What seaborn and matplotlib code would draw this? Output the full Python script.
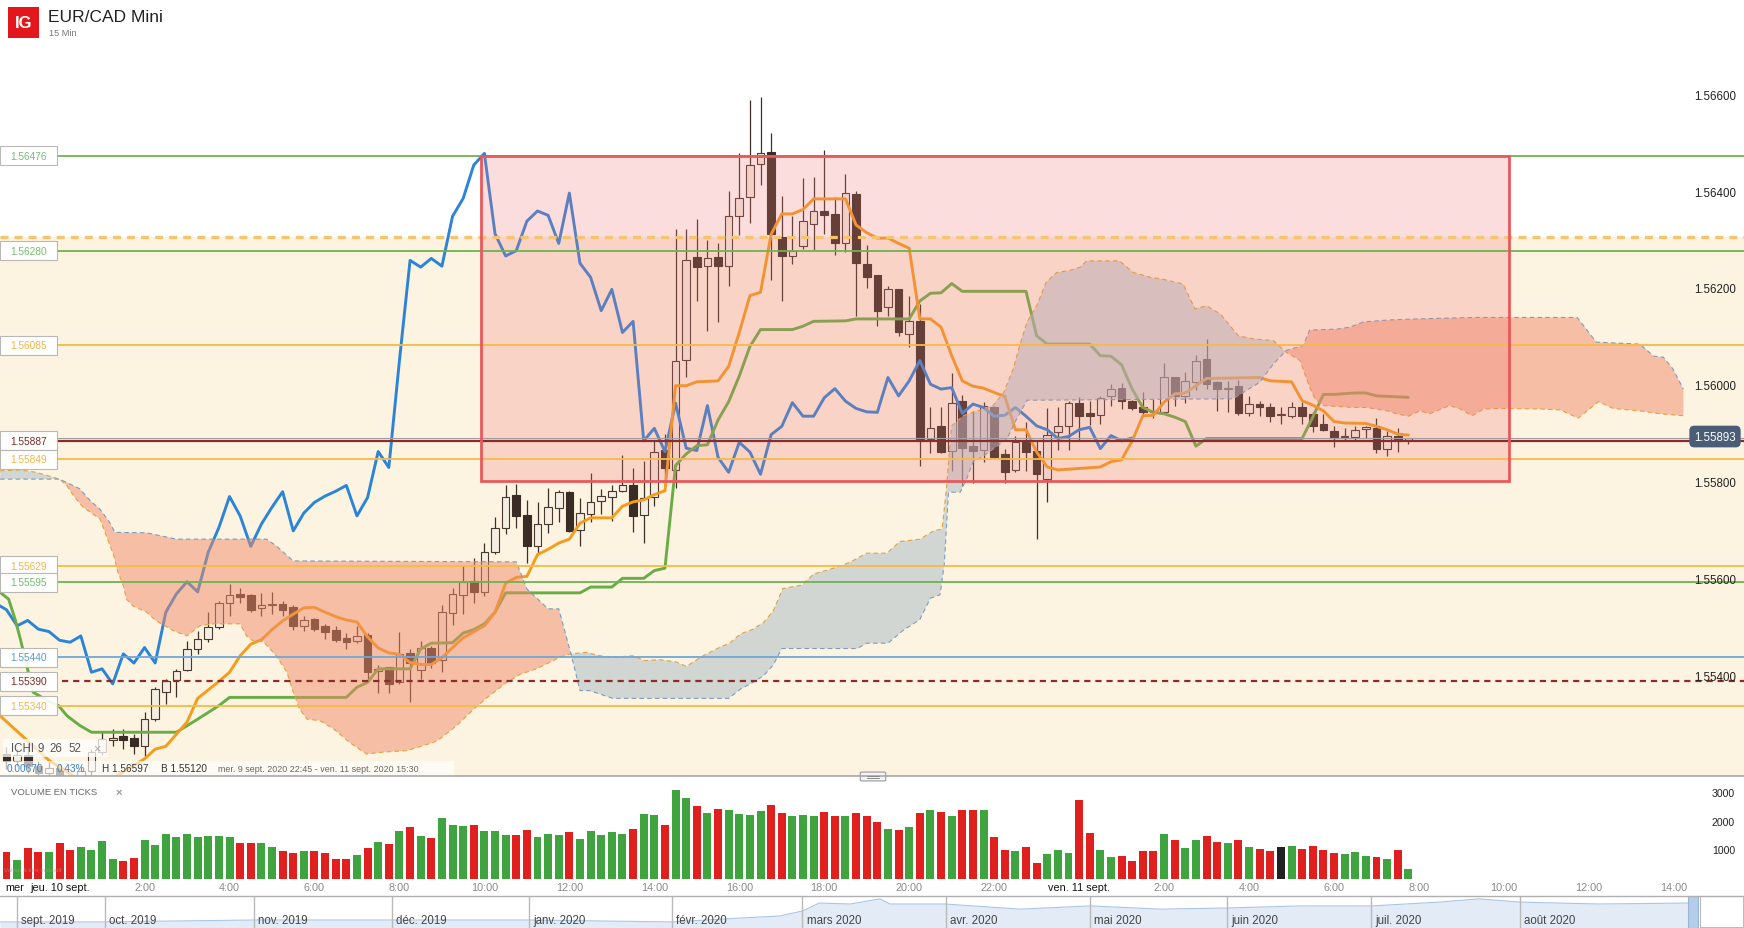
import numpy as np
import pandas as pd
import matplotlib
matplotlib.use("Agg")
import matplotlib.pyplot as plt
import matplotlib.patches as mpatches
import matplotlib.transforms as mtrans
import seaborn as sns

sns.set_style("white")
plt.rcParams["font.family"] = ["Liberation Sans", "DejaVu Sans"]

# ---- data: 15 min bars, index 0 = jeu. 10 sept. 00:00 ----
bar_idx = list(range(-5, 128))

opens = [1.55240, 1.55225, 1.55238, 1.55215, 1.55200, 1.55212, 1.55190, 1.55180, 1.55205, 1.55245,
         1.55268, 1.55278, 1.55273, 1.55257, 1.55312, 1.55369, 1.55392, 1.55414, 1.55458, 1.55478,
         1.55502, 1.55552, 1.55570, 1.55569, 1.55542, 1.55547, 1.55551, 1.55543, 1.55504, 1.55519,
         1.55504, 1.55496, 1.55480, 1.55474, 1.55486, 1.55411, 1.55419, 1.55388, 1.55449, 1.55413,
         1.55460, 1.55435, 1.55531, 1.55569, 1.55598, 1.55575, 1.55658, 1.55708, 1.55775, 1.55734,
         1.55669, 1.55715, 1.55748, 1.55782, 1.55703, 1.55736, 1.55762, 1.55772, 1.55784, 1.55796,
         1.55734, 1.55772, 1.55869, 1.55827, 1.56055, 1.56266, 1.56248, 1.56266, 1.56248, 1.56351,
         1.56390, 1.56459, 1.56483, 1.56308, 1.56269, 1.56289, 1.56335, 1.56362, 1.56356, 1.56295,
         1.56397, 1.56253, 1.56230, 1.56163, 1.56201, 1.56108, 1.56134, 1.55891, 1.55917, 1.55867,
         1.55969, 1.55876, 1.55869, 1.55958, 1.55860, 1.55827, 1.55887, 1.55866, 1.55809, 1.55906,
         1.55917, 1.55966, 1.55944, 1.55940, 1.55979, 1.55997, 1.55969, 1.55958, 1.55948, 1.55947,
         1.56018, 1.55980, 1.56009, 1.56056, 1.56008, 1.55995, 1.56001, 1.55944, 1.55963, 1.55956,
         1.55940, 1.55938, 1.55956, 1.55942, 1.55922, 1.55908, 1.55895, 1.55896, 1.55911, 1.55913,
         1.55871, 1.55898, 1.55889]
highs = [1.55255, 1.55250, 1.55262, 1.55225, 1.55230, 1.55220, 1.55200, 1.55215, 1.55250, 1.55285,
         1.55292, 1.55292, 1.55281, 1.55326, 1.55378, 1.55395, 1.55416, 1.55474, 1.55495, 1.55533,
         1.55557, 1.55591, 1.55584, 1.55571, 1.55573, 1.55574, 1.55557, 1.55548, 1.55526, 1.55522,
         1.55509, 1.55504, 1.55491, 1.55504, 1.55491, 1.55423, 1.55419, 1.55493, 1.55456, 1.55474,
         1.55464, 1.55547, 1.55584, 1.55629, 1.55646, 1.55677, 1.55729, 1.55796, 1.55798, 1.55765,
         1.55760, 1.55789, 1.55786, 1.55784, 1.55770, 1.55821, 1.55788, 1.55796, 1.55858, 1.55830,
         1.55846, 1.55888, 1.55901, 1.56325, 1.56324, 1.56346, 1.56303, 1.56296, 1.56404, 1.56482,
         1.56592, 1.56597, 1.56523, 1.56393, 1.56351, 1.56430, 1.56432, 1.56488, 1.56390, 1.56439,
         1.56403, 1.56292, 1.56230, 1.56206, 1.56201, 1.56186, 1.56169, 1.55958, 1.55958, 1.56027,
         1.55982, 1.55949, 1.55968, 1.55960, 1.55871, 1.55898, 1.55925, 1.55889, 1.55954, 1.55956,
         1.55970, 1.55977, 1.55970, 1.55980, 1.56004, 1.56006, 1.55972, 1.55987, 1.55973, 1.56048,
         1.56018, 1.56030, 1.56064, 1.56097, 1.56011, 1.56011, 1.56013, 1.55979, 1.55970, 1.55965,
         1.55958, 1.55968, 1.55968, 1.55946, 1.55942, 1.55918, 1.55913, 1.55918, 1.55918, 1.55935,
         1.55908, 1.55913, 1.55893]
lows = [1.55210, 1.55215, 1.55200, 1.55180, 1.55185, 1.55170, 1.55160, 1.55170, 1.55190, 1.55238,
        1.55257, 1.55250, 1.55240, 1.55236, 1.55309, 1.55343, 1.55357, 1.55412, 1.55447, 1.55472,
        1.55498, 1.55526, 1.55553, 1.55533, 1.55526, 1.55529, 1.55526, 1.55497, 1.55495, 1.55495,
        1.55478, 1.55472, 1.55456, 1.55469, 1.55395, 1.55367, 1.55367, 1.55385, 1.55348, 1.55395,
        1.55417, 1.55410, 1.55507, 1.55529, 1.55553, 1.55567, 1.55653, 1.55695, 1.55706, 1.55635,
        1.55653, 1.55697, 1.55719, 1.55699, 1.55669, 1.55720, 1.55736, 1.55722, 1.55781, 1.55698,
        1.55677, 1.55753, 1.55801, 1.55789, 1.56020, 1.56177, 1.56115, 1.56132, 1.56208, 1.56313,
        1.56337, 1.56415, 1.56220, 1.56175, 1.56253, 1.56284, 1.56282, 1.56315, 1.56272, 1.56277,
        1.56144, 1.56202, 1.56125, 1.56146, 1.56103, 1.56080, 1.55836, 1.55863, 1.55862, 1.55825,
        1.55793, 1.55801, 1.55844, 1.55850, 1.55801, 1.55823, 1.55825, 1.55685, 1.55760, 1.55869,
        1.55869, 1.55887, 1.55920, 1.55922, 1.55960, 1.55953, 1.55951, 1.55942, 1.55935, 1.55946,
        1.55960, 1.55966, 1.55993, 1.55994, 1.55949, 1.55946, 1.55941, 1.55939, 1.55939, 1.55925,
        1.55922, 1.55935, 1.55922, 1.55906, 1.55908, 1.55875, 1.55887, 1.55889, 1.55892, 1.55863,
        1.55856, 1.55864, 1.55880]
closes = [1.55225, 1.55238, 1.55215, 1.55200, 1.55212, 1.55190, 1.55180, 1.55205, 1.55245, 1.55271,
          1.55274, 1.55268, 1.55256, 1.55312, 1.55374, 1.55390, 1.55412, 1.55458, 1.55478, 1.55502,
          1.55552, 1.55569, 1.55564, 1.55538, 1.55548, 1.55551, 1.55538, 1.55505, 1.55516, 1.55498,
          1.55493, 1.55475, 1.55471, 1.55484, 1.55409, 1.55416, 1.55385, 1.55447, 1.55428, 1.55460,
          1.55428, 1.55533, 1.55571, 1.55596, 1.55575, 1.55657, 1.55708, 1.55772, 1.55732, 1.55669,
          1.55715, 1.55750, 1.55782, 1.55701, 1.55738, 1.55760, 1.55773, 1.55783, 1.55795, 1.55732,
          1.55770, 1.55865, 1.55832, 1.56053, 1.56260, 1.56246, 1.56264, 1.56248, 1.56351, 1.56388,
          1.56457, 1.56481, 1.56315, 1.56269, 1.56280, 1.56341, 1.56362, 1.56353, 1.56295, 1.56399,
          1.56254, 1.56225, 1.56156, 1.56200, 1.56111, 1.56134, 1.55887, 1.55913, 1.55865, 1.55965,
          1.55872, 1.55867, 1.55960, 1.55853, 1.55822, 1.55884, 1.55864, 1.55818, 1.55900, 1.55917,
          1.55966, 1.55938, 1.55938, 1.55976, 1.55995, 1.55969, 1.55954, 1.55947, 1.55946, 1.56018,
          1.55980, 1.56011, 1.56053, 1.56004, 1.55994, 1.55997, 1.55944, 1.55963, 1.55956, 1.55938,
          1.55940, 1.55956, 1.55938, 1.55918, 1.55910, 1.55892, 1.55896, 1.55910, 1.55915, 1.55871,
          1.55898, 1.55887, 1.55893]
volumes = [930, 674, 1093, 953, 930, 1267, 1023, 1128, 1000, 1326,
           686, 616, 744, 1372, 1174, 1581, 1453, 1558, 1477, 1500,
           1488, 1477, 1267, 1267, 1267, 1128, 988, 895, 965, 977,
           919, 709, 709, 837, 1093, 1302, 1209, 1686, 1802, 1500,
           1442, 2128, 1884, 1837, 1884, 1674, 1663, 1523, 1523, 1709,
           1477, 1558, 1523, 1628, 1407, 1663, 1547, 1651, 1558, 1756,
           2267, 2244, 1884, 3116, 2814, 2547, 2314, 2442, 2395, 2279,
           2221, 2360, 2593, 2314, 2186, 2244, 2209, 2337, 2209, 2209,
           2302, 2215, 1977, 1750, 1710, 1826, 2302, 2395, 2326, 2209,
           2419, 2395, 2407, 1465, 1023, 965, 1116, 558, 872, 1023,
           895, 2767, 1616, 1000, 779, 814, 640, 988, 977, 1581,
           1372, 1093, 1372, 1500, 1291, 1256, 1360, 1128, 1047, 977,
           1128, 1163, 1058, 1140, 1023, 919, 860, 953, 802, 779,
           698, 1000, 337]

# Ichimoku lines (bar index, price)
tenkan = [(-6, 1.55327), (-3, 1.55267), (-1, 1.55227), (2, 1.55185), (5, 1.55190),
          (8, 1.55230), (9, 1.55250), (10, 1.55256), (12, 1.55306), (13, 1.55355),
          (15, 1.55390), (16, 1.55409), (17, 1.55443), (18, 1.55467), (19, 1.55476),
          (20, 1.55497), (21, 1.55515), (22, 1.55529), (23, 1.55542), (24, 1.55543),
          (25, 1.55533), (26, 1.55524), (27, 1.55517), (28, 1.55513), (29, 1.55482),
          (30, 1.55459), (31, 1.55449), (32, 1.55446), (33, 1.55429), (34, 1.55425),
          (35, 1.55425), (36, 1.55439), (37, 1.55460), (38, 1.55480), (40, 1.55505),
          (41, 1.55533), (42, 1.55593), (43, 1.55605), (44, 1.55607), (45, 1.55652),
          (46, 1.55663), (47, 1.55676), (48, 1.55684), (49, 1.55717), (50, 1.55728),
          (52, 1.55728), (53, 1.55752), (54, 1.55761), (55, 1.55765), (56, 1.55776),
          (57, 1.55784), (58, 1.56001), (59, 1.56001), (60, 1.56009), (62, 1.56011),
          (63, 1.56041), (64, 1.56111), (65, 1.56187), (66, 1.56194), (67, 1.56314),
          (68, 1.56356), (69, 1.56356), (70, 1.56365), (71, 1.56387), (74, 1.56387),
          (75, 1.56333), (76, 1.56317), (77, 1.56306), (78, 1.56306), (79, 1.56295),
          (80, 1.56285), (81, 1.56139), (82, 1.56139), (83, 1.56122), (84, 1.56063),
          (85, 1.56011), (86, 1.56000), (87, 1.55996), (88, 1.55987), (89, 1.55979),
          (90, 1.55910), (91, 1.55910), (92, 1.55864), (93, 1.55833), (94, 1.55827),
          (96, 1.55830), (98, 1.55833), (99, 1.55844), (100, 1.55848), (101, 1.55887),
          (102, 1.55939), (103, 1.55940), (104, 1.55967), (105, 1.55984), (106, 1.55986),
          (107, 1.56001), (108, 1.56016), (113, 1.56018), (114, 1.56011), (116, 1.56009),
          (117, 1.55970), (118, 1.55961), (119, 1.55949), (120, 1.55927), (121, 1.55924),
          (123, 1.55923), (124, 1.55917), (125, 1.55910), (126, 1.55901), (127, 1.55899)]

kijun = [(-5.6, 1.55574), (-4.8, 1.55560), (-4.2, 1.55519), (-3.7, 1.55478), (-2.5, 1.55368),
         (-0.9, 1.55347), (-0.1, 1.55340), (0.7, 1.55319), (1.9, 1.55299), (3, 1.55285),
         (11, 1.55285), (13, 1.55312), (15, 1.55340), (16, 1.55357), (27, 1.55357),
         (28, 1.55378), (29, 1.55388), (30, 1.55416), (33, 1.55416), (34, 1.55457),
         (35, 1.55469), (37, 1.55470), (38, 1.55490), (39, 1.55497), (40, 1.55509),
         (41, 1.55533), (42, 1.55573), (49, 1.55573), (50, 1.55585), (52, 1.55585),
         (53, 1.55603), (55, 1.55603), (56, 1.55619), (57, 1.55624), (58, 1.55836),
         (59, 1.55860), (60, 1.55877), (61, 1.55879), (62, 1.55930), (63, 1.55968),
         (64, 1.56021), (65, 1.56082), (66, 1.56117), (69, 1.56117), (70, 1.56124),
         (71, 1.56134), (74, 1.56135), (75, 1.56139), (80, 1.56139), (81, 1.56176),
         (82, 1.56192), (83, 1.56193), (84, 1.56212), (85, 1.56196), (91, 1.56196),
         (92, 1.56104), (93, 1.56087), (97, 1.56087), (98, 1.56063), (99, 1.56062),
         (100, 1.56044), (101, 1.55994), (102, 1.55956), (103, 1.55946), (104, 1.55943),
         (105, 1.55936), (106, 1.55927), (107, 1.55876), (108, 1.55892), (117, 1.55892),
         (118, 1.55936), (119, 1.55983), (120, 1.55983), (122, 1.55986), (123, 1.55986),
         (124, 1.55980), (127, 1.55977)]

span_a = [(-5.6, 1.55825), (-3.7, 1.55827), (-2.2, 1.55822), (0.0, 1.55808), (0.7, 1.55794),
          (1.3, 1.55774), (2.2, 1.55750), (3.8, 1.55726), (4.4, 1.55691), (5.1, 1.55650),
          (5.5, 1.55615), (6.0, 1.55588), (6.3, 1.55560), (6.9, 1.55546), (8.2, 1.55533),
          (9.1, 1.55515), (10.7, 1.55495), (12.0, 1.55484), (13.2, 1.55505), (14.5, 1.55509),
          (17.0, 1.55509), (17.6, 1.55484), (18.2, 1.55474), (19.2, 1.55472), (20.4, 1.55443),
          (21.4, 1.55409), (22.0, 1.55368), (22.6, 1.55333), (23.3, 1.55312), (24.5, 1.55309),
          (25.8, 1.55292), (27.3, 1.55264), (28.9, 1.55240), (30.5, 1.55244), (32.7, 1.55247),
          (35.2, 1.55264), (35.8, 1.55271), (37.4, 1.55299), (39.0, 1.55333), (40.5, 1.55361),
          (42.1, 1.55388), (43.4, 1.55405), (44.9, 1.55416), (46.2, 1.55430), (47.1, 1.55440),
          (48.2, 1.55447), (49.6, 1.55450), (50.9, 1.55443), (52.1, 1.55440), (54.0, 1.55443),
          (55.1, 1.55433), (56.5, 1.55435), (58.1, 1.55430), (59.0, 1.55421), (60.6, 1.55443),
          (62.2, 1.55461), (63.1, 1.55469), (64.1, 1.55488), (65.3, 1.55498), (66.3, 1.55512),
          (67.2, 1.55536), (68.1, 1.55582), (69.9, 1.55589), (71.0, 1.55612), (73.2, 1.55626),
          (74.4, 1.55636), (76.0, 1.55655), (77.9, 1.55655), (79.1, 1.55679), (81.0, 1.55684),
          (82.3, 1.55701), (83.1, 1.55705), (83.5, 1.55788), (84.0, 1.55918), (85.1, 1.55939),
          (86.0, 1.55946), (87.0, 1.55953), (87.9, 1.55960), (88.9, 1.55987), (89.8, 1.56036),
          (90.4, 1.56084), (91.1, 1.56133), (92.0, 1.56166), (92.9, 1.56215), (93.9, 1.56235),
          (95.1, 1.56239), (96.1, 1.56246), (96.7, 1.56259), (99.8, 1.56259), (101.1, 1.56235),
          (102.7, 1.56225), (103.9, 1.56221), (105.8, 1.56211), (106.9, 1.56160), (108.0, 1.56166),
          (109.3, 1.56149), (111.0, 1.56104), (112.4, 1.56098), (114.3, 1.56094), (115.5, 1.56070),
          (116.8, 1.56053), (117.7, 1.55998), (118.2, 1.55974), (119.0, 1.55960), (121.8, 1.55956),
          (123.1, 1.55956), (125.0, 1.55949), (125.9, 1.55943), (127.0, 1.55938), (128.1, 1.55949),
          (129.0, 1.55943), (130.9, 1.55960), (131.9, 1.55953), (133.0, 1.55939), (134.1, 1.55953),
          (135.6, 1.55954), (139.4, 1.55953), (141.3, 1.55951), (143.0, 1.55934), (144.9, 1.55968),
          (146.3, 1.55954), (148.8, 1.55949), (150.7, 1.55943), (152.9, 1.55939)]

span_b = [(-5.6, 1.55808), (0.0, 1.55808), (1.9, 1.55788), (2.9, 1.55763), (3.8, 1.55746),
          (4.7, 1.55719), (5.2, 1.55698), (8.2, 1.55697), (11.0, 1.55684), (19.5, 1.55684),
          (20.4, 1.55670), (22.0, 1.55639), (43.0, 1.55637), (44.0, 1.55581), (46.0, 1.55540),
          (47.0, 1.55540), (48.2, 1.55443), (49.0, 1.55371), (49.9, 1.55371), (52.1, 1.55355),
          (63.0, 1.55355), (64.1, 1.55374), (65.3, 1.55388), (66.3, 1.55402), (67.2, 1.55424),
          (68.0, 1.55458), (75.1, 1.55458), (76.0, 1.55469), (78.0, 1.55469), (79.4, 1.55495),
          (81.0, 1.55518), (82.0, 1.55562), (82.9, 1.55569), (83.3, 1.55631), (83.7, 1.55781),
          (84.8, 1.55781), (85.4, 1.55808), (86.0, 1.55843), (87.0, 1.55856), (87.9, 1.55870),
          (89.2, 1.55891), (90.1, 1.55932), (91.1, 1.55971), (110.5, 1.55974), (113.0, 1.56008),
          (114.3, 1.56046), (115.5, 1.56074), (117.1, 1.56084), (117.7, 1.56116), (120.3, 1.56118),
          (121.5, 1.56122), (122.8, 1.56133), (125.3, 1.56137), (127.8, 1.56139), (133.1, 1.56142),
          (142.9, 1.56142), (143.5, 1.56125), (144.7, 1.56091), (148.8, 1.56087), (150.1, 1.56062),
          (151.0, 1.56060), (151.9, 1.56036), (152.9, 1.55994)]

# horizontal levels drawn by the user
levels = [1.56476, 1.56280, 1.56085, 1.55887, 1.55849, 1.55629, 1.55595, 1.55440, 1.55390, 1.55340]
level_kind = ["green", "green", "orange", "red", "orange", "orange", "green", "blue", "reddash", "orange"]
zone_top = 1.56308          # dashed orange line / top of the cream zone
last_price = 1.55893
rect_bars = (39.7, 136.5)   # drawn rectangle, bar range
rect_prices = (1.55805, 1.56476)

price_ticks = [1.566, 1.564, 1.562, 1.560, 1.558, 1.556, 1.554]
vol_ticks = [1000, 2000, 3000]
hour_ticks = [8, 16, 24, 32, 40, 48, 56, 64, 72, 80, 88, 104, 112, 120, 128, 136, 144, 152]
hour_labels = ["2:00", "4:00", "6:00", "8:00", "10:00", "12:00", "14:00", "16:00", "18:00",
               "20:00", "22:00", "2:00", "4:00", "6:00", "8:00", "10:00", "12:00", "14:00"]
day_ticks = [0, 96]
day_labels = ["jeu. 10 sept.", "ven. 11 sept."]

# navigator (trading months since oct. 2019, relative level)
nav_t = [-0.74, -0.03, 1.06, 2.03, 3.0, 4.02, 4.5, 4.78, 4.94, 5.06, 5.28, 5.49, 5.56,
         5.95, 6.48, 6.98, 7.47, 7.95, 8.46, 8.97, 9.45, 9.73, 10.02, 10.58, 11.21]
nav_v = [0.19, 0.19, 0.25, 0.25, 0.25, 0.19, 0.31, 0.375, 0.53, 0.78, 0.75, 0.91, 0.75,
         0.75, 0.59, 0.69, 0.59, 0.625, 0.69, 0.69, 0.81, 0.91, 0.81, 0.75, 0.78]
nav_months = [-0.62, 0, 1.058, 2.035, 3.004, 4.016, 4.94, 5.954, 6.975, 7.947, 8.968, 10.02]
nav_labels = ["sept. 2019", "oct. 2019", "nov. 2019", "déc. 2019", "janv. 2020", "févr. 2020",
              "mars 2020", "avr. 2020", "mai 2020", "juin 2020", "juil. 2020", "août 2020"]

# ---- layout ----
W, H = 1744, 929
X0, X1 = -5.612, 158.606
P0, P1 = 1.551946, 1.568


def fx(x):
    return x / W


def fy(y):
    return 1 - y / H


fig = plt.figure(figsize=(W / 100, H / 100), dpi=100)
fig.patch.set_facecolor("white")

df = pd.DataFrame({"i": bar_idx, "o": opens, "h": highs, "l": lows, "c": closes, "v": volumes})

# ---- price panel ----
ax = fig.add_axes([0, fy(777), 1, 777 / H])
ax.axhspan(P0, zone_top, color="#fdf3e1", lw=0, zorder=0)

up = df.c >= df.o
body_lo = np.minimum(df.o, df.c)
body_h = np.maximum(np.abs(df.c - df.o), 0.00002)
ax.vlines(df.i, df.l, df.h, color="#3e3029", lw=0.9, zorder=2)
ax.bar(df.i[up], body_h[up], bottom=body_lo[up], width=0.72, color="#f4eee2",
       edgecolor="#4a372d", linewidth=0.8, zorder=2.2)
ax.bar(df.i[~up], body_h[~up], bottom=body_lo[~up], width=0.72, color="#3a2c24",
       edgecolor="#3a2c24", linewidth=0.8, zorder=2.2)

tk = np.array(tenkan)
kj = np.array(kijun)
chik_x = df.i.values - 26
chik_m = chik_x >= -7
sns.lineplot(x=chik_x[chik_m], y=df.c.values[chik_m], ax=ax, color="#2b84d8", lw=2.1,
             sort=False, estimator=None, zorder=3)
sns.lineplot(x=kj[:, 0], y=kj[:, 1], ax=ax, color="#69ad45", lw=2.1,
             sort=False, estimator=None, zorder=3)
sns.lineplot(x=tk[:, 0], y=tk[:, 1], ax=ax, color="#f49d1c", lw=2.1,
             sort=False, estimator=None, zorder=3)

# cloud
sa = np.array(span_a)
sb = np.array(span_b)
for lo, hi, col, al in [(-5.6, 0.0, "#aebfc8", 0.55), (0.0, 48.2, "#f08a6a", 0.5),
                        (48.2, 115.5, "#aebfc8", 0.55), (115.5, 152.9, "#f08a6a", 0.5)]:
    ma = (sa[:, 0] >= lo - 1e-6) & (sa[:, 0] <= hi + 1e-6)
    mb = (sb[:, 0] >= lo - 1e-6) & (sb[:, 0] <= hi + 1e-6)
    ax.fill(np.r_[sa[ma, 0], sb[mb, 0][::-1]], np.r_[sa[ma, 1], sb[mb, 1][::-1]],
            color=col, alpha=al, lw=0, zorder=4)
ax.plot(sa[:, 0], sa[:, 1], color="#e6a03e", lw=0.8, ls=(0, (4, 3)), zorder=4.2)
ax.plot(sb[:, 0], sb[:, 1], color="#7d9cc0", lw=0.8, ls=(0, (4, 3)), zorder=4.2)

# drawn rectangle
ax.add_patch(mpatches.Rectangle((rect_bars[0], rect_prices[0]), rect_bars[1] - rect_bars[0],
                                rect_prices[1] - rect_prices[0], facecolor="#f07878",
                                alpha=0.25, lw=0, zorder=5))

line_col = {"green": "#6db352", "orange": "#f6ba45", "red": "#8c2b2b", "blue": "#6ea7d8",
            "reddash": "#8c2b2b"}
text_col = {"green": "#77bb77", "orange": "#f1b64a", "red": "#7c2a2a", "blue": "#5d9ad2",
            "reddash": "#7c2a2a"}

ax.axhline(zone_top, color="#f7c36c", lw=2.3, ls=(0, (2.5, 1.9)), zorder=6)
ax.axhline(last_price, xmin=fx(57), color="#a0a0a0", lw=0.8, zorder=6)
for lv, kd in zip(levels, level_kind):
    if kd == "reddash":
        ax.axhline(lv, xmin=fx(62), color=line_col[kd], lw=1.6, ls=(0, (2.8, 2.2)), zorder=6)
    else:
        ax.axhline(lv, xmin=fx(57), color=line_col[kd], lw=1.6 if kd == "red" else 1.3, zorder=6)

ax.add_patch(mpatches.Rectangle((rect_bars[0], rect_prices[0]), rect_bars[1] - rect_bars[0],
                                rect_prices[1] - rect_prices[0], fill=False,
                                edgecolor="#e8595b", lw=2.0, zorder=6.5))

tr_fd = mtrans.blended_transform_factory(fig.transFigure, ax.transData)
box_h = 19 / 48400
for lv, kd in zip(levels, level_kind):
    ax.add_patch(mpatches.Rectangle((0, lv - box_h / 2), fx(57), box_h, transform=tr_fd,
                                    facecolor="white", alpha=0.92, edgecolor="#b3b3b3",
                                    lw=0.8, zorder=8, clip_on=False))
    ax.text(fx(29), lv, f"{lv:.5f}", transform=tr_fd, ha="center", va="center",
            fontsize=7.3, color=text_col[kd], zorder=9)

for p in price_ticks:
    ax.text(fx(1736), p, f"{p:.5f}", transform=tr_fd, ha="right", va="center",
            fontsize=8.3, color="#222222", zorder=9)
ax.text(fx(1715), last_price + 0.00003, f"{last_price:.5f}", transform=tr_fd, ha="center",
        va="center", fontsize=8.3, color="white", zorder=10,
        bbox=dict(boxstyle="round,pad=0.42", fc="#4b5d76", ec="none"))

ax.set_xlim(X0, X1)
ax.set_ylim(P0, P1)
ax.axis("off")

# ---- volume panel ----
axv = fig.add_axes([0, fy(880), 1, 102 / H])
vcol = np.where(df.c > df.o, "#3fa33f", np.where(df.c < df.o, "#e01f1f", "#222222"))
axv.bar(df.i, df.v, width=0.75, color=vcol, lw=0)
axv.set_xlim(X0, X1)
axv.set_ylim(0, 3558)
axv.axis("off")
tr_fv = mtrans.blended_transform_factory(fig.transFigure, axv.transData)
for v in vol_ticks:
    axv.text(fx(1735), v, str(v), transform=tr_fv, ha="right", va="center",
             fontsize=7.6, color="#222222")
fig.text(fx(11), fy(793), "VOLUME EN TICKS", fontsize=6.8, color="#666666", va="center")
fig.text(fx(116), fy(793), "×", fontsize=8, color="#999999", va="center", weight="bold")
fig.text(fx(4), fy(871), "Valeur à titre indicatif", fontsize=4.5, color="#9a9a9a",
         va="center", alpha=0.7)

# time axis
tr_df = mtrans.blended_transform_factory(axv.transData, fig.transFigure)
for t, lab in zip(hour_ticks, hour_labels):
    fig.text(t, fy(888), lab, transform=tr_df, ha="center", va="center",
             fontsize=7.8, color="#8a8a8a")
for t, lab in zip(day_ticks, day_labels):
    fig.text(t, fy(888), lab, transform=tr_df, ha="center", va="center",
             fontsize=7.8, color="#111111")
fig.text(fx(5), fy(888), "mer", ha="left", va="center", fontsize=7.8, color="#111111")

# ---- navigator ----
axn = fig.add_axes([0, 0, fx(1688), 32 / H])
axn.fill_between(nav_t, 0, nav_v, color="#e2ebf6", lw=0)
axn.plot(nav_t, nav_v, color="#a9c6e4", lw=0.8)
for m, lab in zip(nav_months, nav_labels):
    axn.axvline(m, color="#b9b9b9", lw=1.0)
    axn.text(m + 0.03, 0.24, lab, ha="left", va="center", fontsize=8.3, color="#444444")
axn.set_xlim(nav_t[0], nav_t[-1])
axn.set_ylim(0, 1)
axn.axis("off")
fig.patches.append(mpatches.Rectangle((fx(1688), 0), fx(10), 32 / H, transform=fig.transFigure,
                                      facecolor="#b4cde8", edgecolor="#9ab6d6", lw=0.8))
fig.patches.append(mpatches.Rectangle((fx(1700), 0.001), fx(43), 31 / H, transform=fig.transFigure,
                                      facecolor="white", edgecolor="#bbbbbb", lw=0.8))
fig.add_artist(plt.Line2D([0, 1], [fy(897), fy(897)], transform=fig.transFigure,
                          color="#b0b0b0", lw=1.0))

# ---- separators and overlays ----
fig.add_artist(plt.Line2D([0, 1], [fy(777), fy(777)], transform=fig.transFigure,
                          color="#a8a8a8", lw=1.2))
fig.patches.append(mpatches.FancyBboxPatch((fx(862), fy(781)), fx(22), 7 / H,
                                           boxstyle="round,pad=0.001", transform=fig.transFigure,
                                           facecolor="#f4f4f4", edgecolor="#999999", lw=0.8))
for yy in (776.5, 778.8):
    fig.add_artist(plt.Line2D([fx(867), fx(879)], [fy(yy), fy(yy)], transform=fig.transFigure,
                              color="#888888", lw=0.7))

# indicator legend box
fig.patches.append(mpatches.Rectangle((fx(3), fy(758)), fx(105), 18 / H, transform=fig.transFigure,
                                      facecolor="white", alpha=0.75, lw=0))
for xx, tx in [(11, "ICHI"), (37, "9"), (49, "26"), (68, "52")]:
    fig.text(fx(xx), fy(749), tx, fontsize=8.3, color="#555555", va="center")
fig.text(fx(93), fy(749), "×", fontsize=9, color="#aaaaaa", va="center")

# info bar
fig.patches.append(mpatches.Rectangle((0, fy(776.5)), fx(454), 15 / H, transform=fig.transFigure,
                                      facecolor="white", alpha=0.65, lw=0))
fig.text(fx(7), fy(769), "0.00670", fontsize=7.2, color="#3b80c6", va="center")
fig.text(fx(57), fy(769), "0.43%", fontsize=7.2, color="#3b80c6", va="center")
fig.text(fx(102), fy(769), "H 1.56597", fontsize=7.2, color="#333333", va="center")
fig.text(fx(161), fy(769), "B 1.55120", fontsize=7.2, color="#333333", va="center")
fig.text(fx(218), fy(769), "mer. 9 sept. 2020 22:45 - ven. 11 sept. 2020 15:30",
         fontsize=6.4, color="#666666", va="center")

# title and logo
fig.patches.append(mpatches.Rectangle((fx(8), fy(39)), fx(31), 31 / H, transform=fig.transFigure,
                                      facecolor="#e3161b", lw=0))
fig.text(fx(23.5), fy(24), "IG", fontsize=12, color="white", weight="bold",
         ha="center", va="center")
fig.text(fx(48), fy(17), "EUR/CAD Mini", fontsize=12.5, color="#222222", va="center")
fig.text(fx(49), fy(34), "15 Min", fontsize=6.6, color="#777777", va="center")

fig.savefig("out.png", dpi=100)
